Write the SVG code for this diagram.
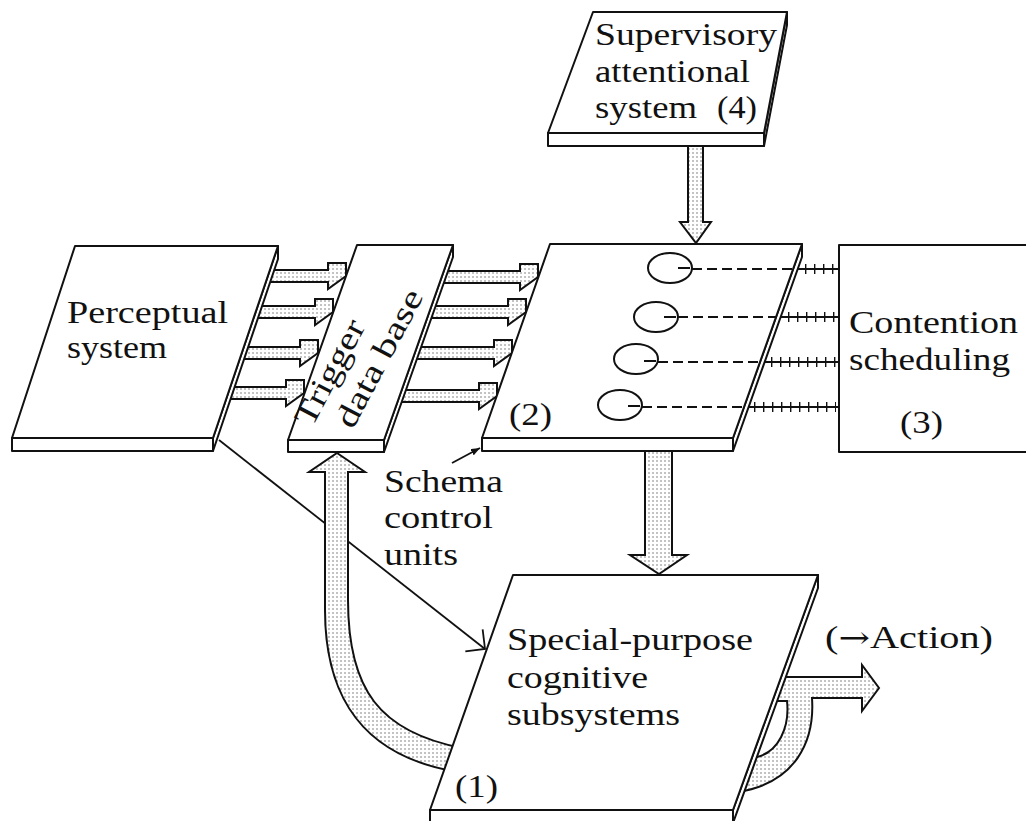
<svg xmlns="http://www.w3.org/2000/svg" width="1026" height="821" viewBox="0 0 1026 821">
<style>
.face{fill:#fff;stroke:#111;stroke-width:2;stroke-linejoin:round}
.band{fill:url(#dots);stroke:#111;stroke-width:2;stroke-linejoin:miter}
.lbl{font-family:"Liberation Serif","Times New Roman",serif;font-size:32px;fill:#111}
.dash{stroke:#111;stroke-width:2;stroke-dasharray:10 5;fill:none}
.thin{stroke:#111;stroke-width:1.8;fill:none}
.ticks{stroke:#111;stroke-width:10;stroke-dasharray:1.4 7.6;fill:none}
</style>
<defs>
<pattern id="dots" width="4" height="4" patternUnits="userSpaceOnUse">
<rect width="4" height="4" fill="#fff"/>
<circle cx="1" cy="1" r="0.8" fill="#777"/>
</pattern>
<marker id="openV" markerUnits="userSpaceOnUse" markerWidth="20" markerHeight="32" refX="16" refY="16" orient="auto" overflow="visible">
<path d="M2,2 L16,16 L2,30" fill="none" stroke="#111" stroke-width="1.8"/>
</marker>
<marker id="headS" markerUnits="userSpaceOnUse" markerWidth="9" markerHeight="7" refX="9" refY="3.5" orient="auto">
<path d="M0,0 L9,3.5 L0,7 Z" fill="#111"/>
</marker>
</defs>

<g id="connectors">
<!-- perceptual -> trigger -->
<path class="band" d="M255,270 H328 V263 H346 L346,276 L328,289 V282 H255 Z"/>
<path class="band" d="M240,306 H315 V299 H333 L333,312 L315,325 V318 H240 Z"/>
<path class="band" d="M225,347 H300 V340 H318 L318,353 L300,366 V359 H225 Z"/>
<path class="band" d="M210,387 H286 V380 H304 L304,393 L286,406 V399 H210 Z"/>
<!-- trigger -> schema units -->
<path class="band" d="M430,271 H520 V264 H538 L538,277 L520,290 V283 H430 Z"/>
<path class="band" d="M418,306 H508 V299 H526 L526,312 L508,325 V318 H418 Z"/>
<path class="band" d="M400,347 H494 V340 H512 L512,353 L494,366 V359 H400 Z"/>
<path class="band" d="M385,390 H479 V383 H497 L497,396 L479,409 V402 H385 Z"/>
<!-- supervisory -> schema units -->
<path class="band" d="M688,140 V222 H680 L696,243 L711,222 H703 V140 Z"/>
<!-- schema units -> special-purpose -->
<path class="band" d="M645,445 V555 H630 L659,574 L687,555 H672 V445 Z"/>
<!-- perceptual -> special-purpose thin line -->
<path class="thin" d="M219,440 L485,649" marker-end="url(#openV)"/>
<!-- special-purpose -> trigger curved band -->
<path class="band" d="M337,453 L365,472 L348,472 L348,600 C348,690 380,732 462,748 L458,772 C365,757 325,700 325,610 L325,472 L309,472 Z"/>
<!-- action arrow -->
<path class="band" d="M770,677 L862,677 L862,665 L879,688 L862,711 L862,698 L812,698 C815,742 795,783 738,792 L745,757 L757,757 C778,752 790,728 787,701 L770,701 Z"/>
<!-- schema units -> contention scheduling -->
<path class="thin" d="M796,269 H840 M779,317 H840 M763,362 H840 M747,407 H840"/>
<path class="ticks" d="M805,269 H836 M788,317 H836 M771,362 H836 M754,407 H836"/>
<!-- label pointer -->
<path class="thin" d="M452,463 L480,448" marker-end="url(#headS)"/>
</g>

<g id="perceptual-system">
<polygon class="face" points="12,438 213,438 213,451 12,451"/>
<polygon class="face" points="278,246 278,259 213,451 213,438"/>
<polygon class="face" points="75,246 278,246 213,438 12,438"/>
<text class="lbl" x="67" y="323" textLength="161" lengthAdjust="spacingAndGlyphs">Perceptual</text>
<text class="lbl" x="67" y="358" textLength="100" lengthAdjust="spacingAndGlyphs">system</text>
</g>

<g id="trigger-data-base">
<polygon class="face" points="288,440 384,440 384,452 288,452"/>
<polygon class="face" points="453,245 453,257 384,452 384,440"/>
<polygon class="face" points="357,245 453,245 384,440 288,440"/>
<g transform="translate(312,428) rotate(-62)">
<text class="lbl" x="0" y="0" textLength="115" lengthAdjust="spacingAndGlyphs">Trigger</text>
<text class="lbl" x="17" y="37" textLength="152" lengthAdjust="spacingAndGlyphs">data base</text>
</g>
</g>

<g id="schema-control-units">
<polygon class="face" points="482,438 733,438 733,451 482,451"/>
<polygon class="face" points="802,244 802,257 733,451 733,438"/>
<polygon class="face" points="550,244 802,244 733,438 482,438"/>
<ellipse class="face" cx="670" cy="268" rx="22" ry="15"/>
<ellipse class="face" cx="656" cy="317" rx="22" ry="15"/>
<ellipse class="face" cx="636" cy="359" rx="22" ry="15"/>
<ellipse class="face" cx="620" cy="405" rx="22" ry="15"/>
<path class="thin" d="M678,268 H690 M664,317 H676 M644,361 H656 M628,406 H640" style="stroke-width:2.2"/>
<path class="dash" d="M692,269 H793 M678,317 H776 M658,362 H760 M642,407 H744"/>
<text class="lbl" x="509" y="425" textLength="43" lengthAdjust="spacingAndGlyphs">(2)</text>
</g>

<g id="schema-label">
<text class="lbl" x="384" y="492" textLength="119" lengthAdjust="spacingAndGlyphs">Schema</text>
<text class="lbl" x="384" y="528" textLength="109" lengthAdjust="spacingAndGlyphs">control</text>
<text class="lbl" x="384" y="565" textLength="74" lengthAdjust="spacingAndGlyphs">units</text>
</g>

<g id="contention-scheduling">
<rect class="face" x="839" y="245" width="200" height="207"/>
<text class="lbl" x="849" y="333" textLength="169" lengthAdjust="spacingAndGlyphs">Contention</text>
<text class="lbl" x="849" y="370" textLength="161" lengthAdjust="spacingAndGlyphs">scheduling</text>
<text class="lbl" x="900" y="433" textLength="43" lengthAdjust="spacingAndGlyphs">(3)</text>
</g>

<g id="supervisory-attentional-system">
<polygon class="face" points="548,133 764,133 764,146 548,146"/>
<polygon class="face" points="787,12 787,25 764,146 764,133"/>
<polygon class="face" points="593,12 787,12 764,133 548,133"/>
<text class="lbl" x="595" y="45" textLength="182" lengthAdjust="spacingAndGlyphs">Supervisory</text>
<text class="lbl" x="595" y="82" textLength="155" lengthAdjust="spacingAndGlyphs">attentional</text>
<text class="lbl" y="118"><tspan x="595" textLength="102" lengthAdjust="spacingAndGlyphs">system</tspan><tspan x="717" textLength="40" lengthAdjust="spacingAndGlyphs">(4)</tspan></text>
</g>

<g id="special-purpose-cognitive-subsystems">
<polygon class="face" points="430,810 733,810 733,823 430,823"/>
<polygon class="face" points="818,575 818,588 733,823 733,810"/>
<polygon class="face" points="513,575 818,575 733,810 430,810"/>
<text class="lbl" x="507" y="650" textLength="246" lengthAdjust="spacingAndGlyphs">Special-purpose</text>
<text class="lbl" x="507" y="688" textLength="141" lengthAdjust="spacingAndGlyphs">cognitive</text>
<text class="lbl" x="507" y="725" textLength="173" lengthAdjust="spacingAndGlyphs">subsystems</text>
<text class="lbl" x="455" y="797" textLength="43" lengthAdjust="spacingAndGlyphs">(1)</text>
</g>

<g id="action-label">
<text class="lbl" x="825" y="648" textLength="168" lengthAdjust="spacingAndGlyphs">(<tspan style="font-family:'DejaVu Serif',serif;font-size:30px">→</tspan>Action)</text>
</g>
</svg>
